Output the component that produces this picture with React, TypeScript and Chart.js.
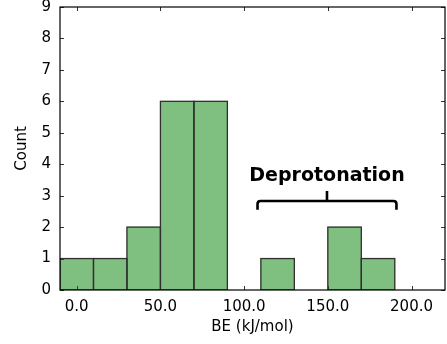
import React, { useEffect, useRef } from "react";
import { Chart, registerables } from "chart.js";

Chart.register(...registerables);

// Histogram bins (left edges) and their counts
const binWidth = 20;
const binStarts = [-10, 10, 30, 50, 70, 110, 150, 170];
const counts = [1, 1, 2, 6, 6, 1, 2, 1];

// Axis ticks
const xTicks = [0, 50, 100, 150, 200];
const yTicks = [0, 1, 2, 3, 4, 5, 6, 7, 8, 9];

// Brace annotation over the deprotonation bins (data units)
const braceLabel = "Deprotonation";
const braceX = [108, 191];
const braceLevels = { foot: 2.55, bar: 2.83, tip: 3.15, text: 3.47 };

const FONT = "'DejaVu Sans', sans-serif";

const framePlugin = {
  id: "frameAndTicks",
  beforeDatasetsDraw(chart: any) {
    const { ctx, chartArea: a, scales } = chart;
    const x = scales.x;
    const y = scales.y;
    const len = 4;
    ctx.save();
    ctx.strokeStyle = "#333333";
    ctx.lineWidth = 1;
    ctx.beginPath();
    for (const v of xTicks) {
      const px = Math.round(x.getPixelForValue(v)) + 0.5;
      ctx.moveTo(px, a.bottom);
      ctx.lineTo(px, a.bottom - len);
      ctx.moveTo(px, a.top);
      ctx.lineTo(px, a.top + len);
    }
    for (const v of yTicks) {
      const py = Math.round(y.getPixelForValue(v)) + 0.5;
      ctx.moveTo(a.left, py);
      ctx.lineTo(a.left + len, py);
      ctx.moveTo(a.right, py);
      ctx.lineTo(a.right - len, py);
    }
    ctx.stroke();
    ctx.restore();
  },
  afterDatasetsDraw(chart: any) {
    // bar outlines centred on the bar edges, so neighbouring bars share one line
    const { ctx, chartArea: a } = chart;
    const bars = chart.getDatasetMeta(0).data;
    ctx.save();
    ctx.beginPath();
    ctx.rect(a.left, a.top, a.right - a.left, a.bottom - a.top);
    ctx.clip();
    ctx.strokeStyle = "#303030";
    ctx.lineWidth = 1.3;
    for (const b of bars) {
      const p = b.getProps(["x", "y", "base", "width"], true);
      ctx.strokeRect(p.x - p.width / 2, p.y, p.width, p.base - p.y);
    }
    ctx.restore();
  },
  afterDraw(chart: any) {
    const { ctx, chartArea: a, scales } = chart;
    const x = scales.x;
    const y = scales.y;
    ctx.save();
    // axes frame
    ctx.strokeStyle = "#000000";
    ctx.lineWidth = 1.2;
    ctx.strokeRect(a.left, a.top, a.right - a.left, a.bottom - a.top);

    // curly brace
    const x1 = x.getPixelForValue(braceX[0]);
    const x2 = x.getPixelForValue(braceX[1]);
    const xm = (x1 + x2) / 2;
    const yFoot = y.getPixelForValue(braceLevels.foot);
    const yBar = y.getPixelForValue(braceLevels.bar);
    const yTip = y.getPixelForValue(braceLevels.tip);
    const r = 3;
    ctx.strokeStyle = "#000000";
    ctx.lineWidth = 2.6;
    ctx.lineCap = "butt";
    ctx.beginPath();
    ctx.moveTo(x1, yFoot);
    ctx.lineTo(x1, yBar + r);
    ctx.quadraticCurveTo(x1, yBar, x1 + r, yBar);
    ctx.lineTo(x2 - r, yBar);
    ctx.quadraticCurveTo(x2, yBar, x2, yBar + r);
    ctx.lineTo(x2, yFoot);
    ctx.moveTo(xm, yBar);
    ctx.lineTo(xm, yTip);
    ctx.stroke();

    ctx.fillStyle = "#000000";
    ctx.font = `bold 19px ${FONT}`;
    ctx.textAlign = "center";
    ctx.textBaseline = "alphabetic";
    ctx.fillText(braceLabel, xm, y.getPixelForValue(braceLevels.text));
    ctx.restore();
  },
};

export default function App() {
  const ref = useRef<HTMLCanvasElement | null>(null);

  useEffect(() => {
    if (!ref.current) return;
    const data = binStarts.map((s, i) => ({ x: s + binWidth / 2, y: counts[i] }));
    const chart = new Chart(ref.current, {
      type: "bar",
      data: {
        datasets: [
          {
            data,
            backgroundColor: "rgba(0,128,0,0.5)",
            borderWidth: 0,
            barPercentage: 1,
            categoryPercentage: 1,
          },
        ],
      },
      options: {
        animation: false,
        responsive: false,
        devicePixelRatio: 1,
        layout: { padding: { top: 7, right: 2, left: 0, bottom: 0 } },
        plugins: { legend: { display: false }, tooltip: { enabled: false } },
        scales: {
          x: {
            type: "linear",
            min: -10,
            max: 220,
            offset: false,
            afterBuildTicks: (scale: any) => {
              scale.ticks = xTicks.map((v) => ({ value: v }));
            },
            afterFit: (scale: any) => {
              scale.height = 54;
              scale.paddingLeft = 0;
              scale.paddingRight = 0;
            },
            grid: { display: false, drawTicks: false, offset: false },
            border: { display: false },
            ticks: {
              padding: 8,
              maxRotation: 0,
              autoSkip: false,
              color: "#000000",
              font: { family: FONT, size: 15 },
              callback: (v: any) => Number(v).toFixed(1),
            },
            title: {
              display: true,
              text: "BE (kJ/mol)",
              color: "#000000",
              font: { family: FONT, size: 15 },
              padding: { top: 0, bottom: 8 },
            },
          },
          y: {
            min: 0,
            max: 9,
            afterBuildTicks: (scale: any) => {
              scale.ticks = yTicks.map((v) => ({ value: v }));
            },
            afterFit: (scale: any) => {
              scale.width = 60;
              scale.paddingTop = 0;
              scale.paddingBottom = 0;
            },
            grid: { display: false, drawTicks: false },
            border: { display: false },
            ticks: {
              padding: 9,
              autoSkip: false,
              color: "#000000",
              font: { family: FONT, size: 15, lineHeight: 1 },
              callback: (v: any) => String(v),
            },
            title: {
              display: true,
              text: "Count",
              color: "#000000",
              font: { family: FONT, size: 15 },
              padding: { top: 13, bottom: 0 },
            },
          },
        },
      },
      plugins: [framePlugin],
    });
    return () => chart.destroy();
  }, []);

  return (
    <div style={{ position: "absolute", left: 0, top: 0, width: 447, height: 344, background: "#ffffff" }}>
      <canvas ref={ref} width={447} height={344} style={{ width: 447, height: 344 }} />
    </div>
  );
}
